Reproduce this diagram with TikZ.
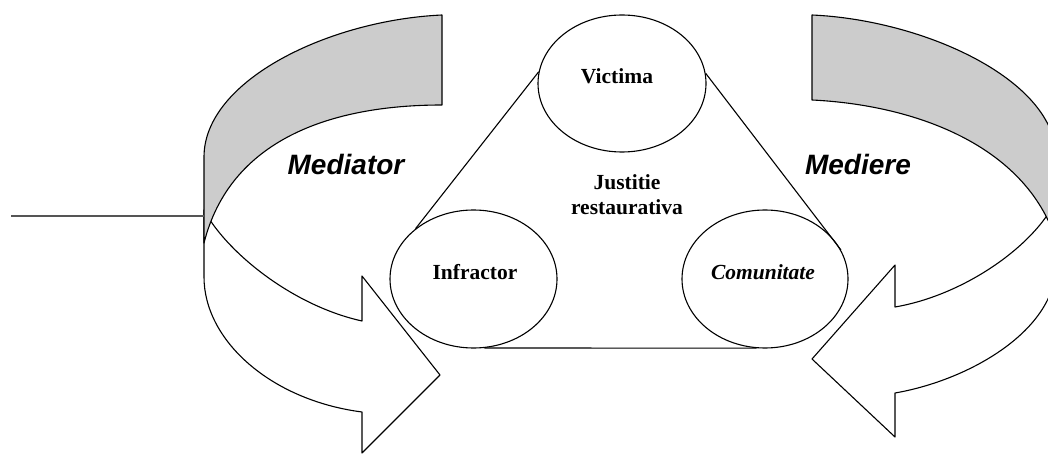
\documentclass[tikz,border=0pt]{standalone}
\usepackage{fontspec}
\setmainfont{Liberation Serif}
\newfontfamily\arialfont{Liberation Sans}
\usetikzlibrary{shapes.geometric}
\definecolor{bandgray}{RGB}{204,204,204}
\definecolor{linegray}{RGB}{85,85,85}
\begin{document}
\begin{tikzpicture}[x=1pt,y=-1pt,
  edge/.style={draw=black, line width=1.1pt, line join=round},
  face/.style={edge, fill=white},
  back/.style={edge, fill=bandgray},
  circ/.style={ellipse, draw=black, line width=1.1pt, inner sep=0pt},
  tri/.style={draw=black, line width=1.1pt},
  lbl/.style={font=\fontsize{21.5}{25}\selectfont\bfseries, inner sep=0pt},
  big/.style={font=\arialfont\fontsize{28}{32}\selectfont\bfseries\itshape, inner sep=0pt}]
\useasboundingbox (0,0) rectangle (1048,454);
\clip (0,0) rectangle (1048,454);
% left curved arrow
\draw[face] (204,210) .. controls (225,250) and (290,305) .. (362,321) -- (362,276) -- (440,375) -- (362,453) -- (362,412) .. controls (270,400) and (204,340) .. (204,277) -- cycle;
\draw[back] (442,15) .. controls (330,20) and (204,80) .. (204,157) -- (204,243) .. controls (230,140) and (330,105) .. (442,105) -- cycle;
% right curved arrow
\draw[face] (1056,200) .. controls (1035,245) and (965,295) .. (895,307) -- (895,265) -- (812,359) -- (895,437) -- (895,393) .. controls (970,380) and (1056,330) .. (1056,265) -- cycle;
\draw[back] (812,15) .. controls (924,20) and (1056,80) .. (1056,157) -- (1056,240) .. controls (1025,145) and (915,105) .. (812,100) -- cycle;
% horizontal line
\coordinate (hl) at (11,216);
\coordinate (fold) at (204,216);
\draw[linegray, line width=1.3pt] (hl) -- (fold);
% ellipses
\node[circ, minimum width=168pt, minimum height=137pt] (vic) at (622,83.5) {};
\node[circ, minimum width=167pt, minimum height=138pt] (inf) at (473.5,279) {};
\node[circ, minimum width=166pt, minimum height=138pt] (com) at (765,279) {};
% triangle
\draw[tri] (vic.172.5) -- (inf.139.8);
\draw[tri] (vic.7.4) -- (com.21.7);
\draw[tri] (inf.-81.6) -- (com.263.3);
% texts
\node[lbl] (tvic) at (617,76) {Victima};
\node[lbl, align=center] (tjus) at (627,195) {Justitie\\restaurativa};
\node[lbl] (tinf) at (475,272) {Infractor};
\node[lbl, font=\fontsize{21.5}{25}\selectfont\bfseries\itshape] (tcom) at (763,272) {Comunitate};
\node[big] (tmed) at (346,165) {Mediator};
\node[big] (tmdr) at (858,165) {Mediere};
\end{tikzpicture}
\end{document}
